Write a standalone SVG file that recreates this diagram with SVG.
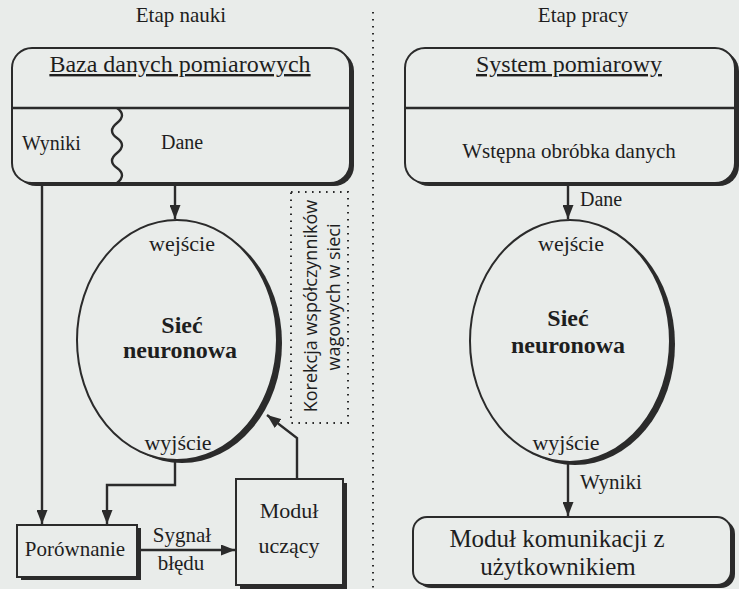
<svg xmlns="http://www.w3.org/2000/svg" width="739" height="589" viewBox="0 0 739 589">
  <defs>
    <marker id="arr" markerUnits="userSpaceOnUse" markerWidth="14" markerHeight="11" refX="14" refY="5.5" viewBox="0 0 14 11" orient="auto">
      <path d="M0,0 L14,5.5 L0,11 z" fill="#2b2b2b"/>
    </marker>
  </defs>
  <style>
    .bg { fill: #e9ecea; }
    .box { fill: #e9ecea; stroke: #2b2b2b; stroke-width: 2; }
    .sh { fill: #2b2b2b; }
    .ln { fill: none; stroke: #2b2b2b; stroke-width: 2.4; }
    .t { font-family: "Liberation Serif", "Times New Roman", serif; fill: #1e1e1e; }
    .s { font-family: "Open Sans", "DejaVu Sans", sans-serif; fill: #1e1e1e; }
    .dot { fill: none; stroke: #2b2b2b; stroke-width: 2; stroke-dasharray: 1.6 5.4; }
  </style>
  <rect class="bg" x="0" y="0" width="739" height="589"/>

  <text class="t" x="181" y="22" font-size="21" text-anchor="middle">Etap nauki</text>
  <text class="t" x="583" y="22" font-size="21" text-anchor="middle">Etap pracy</text>

  <line class="dot" x1="373" y1="12" x2="373" y2="589"/>

  <g id="connectors">
    <line class="ln" x1="42" y1="183" x2="42" y2="524" marker-end="url(#arr)"/>
    <polyline class="ln" points="175,460 175,485 107,485 107,524" marker-end="url(#arr)"/>
    <line class="ln" x1="175" y1="184" x2="175" y2="219" marker-end="url(#arr)"/>
    <line class="ln" x1="139" y1="550" x2="235" y2="550" marker-end="url(#arr)"/>
    <polyline class="ln" points="297,479 297,438 267,415" marker-end="url(#arr)"/>
    <line class="ln" x1="568" y1="184" x2="568" y2="219" marker-end="url(#arr)"/>
    <line class="ln" x1="568" y1="463" x2="568" y2="516" marker-end="url(#arr)"/>
  </g>

  <g id="baza">
    <rect class="sh" x="16" y="51" width="338" height="135" rx="20"/>
    <rect class="box" x="12" y="48" width="338" height="135" rx="20"/>
    <line class="ln" x1="12" y1="108" x2="350" y2="108" stroke-width="1.6"/>
    <text class="t" x="180" y="72" font-size="24" text-anchor="middle" text-decoration="underline">Baza danych pomiarowych</text>
    <text class="t" x="22" y="150" font-size="20">Wyniki</text>
    <path class="ln" d="M117,108 q 10,7 0,15 t 0,15 t 0,15 t 0,15 t 0,15" stroke-width="2"/>
    <text class="t" x="161" y="149" font-size="20">Dane</text>
  </g>

  <g id="system">
    <rect class="sh" x="409" y="51" width="330" height="135" rx="20"/>
    <rect class="box" x="405" y="48" width="330" height="135" rx="20"/>
    <line class="ln" x1="405" y1="108" x2="735" y2="108" stroke-width="1.6"/>
    <text class="t" x="569" y="72" font-size="24" text-anchor="middle" text-decoration="underline">System pomiarowy</text>
    <text class="t" x="569" y="158" font-size="21" text-anchor="middle">Wstępna obróbka danych</text>
  </g>

  <text class="t" x="580" y="206" font-size="20">Dane</text>

  <g id="siec-nauka">
    <ellipse class="sh" cx="182" cy="343" rx="100" ry="120"/>
    <ellipse class="box" cx="177" cy="340" rx="100" ry="120" stroke-width="2.4"/>
    <text class="t" x="182" y="251" font-size="22" text-anchor="middle">wejście</text>
    <text class="t" x="182" y="333" font-size="24" font-weight="bold" text-anchor="middle">Sieć</text>
    <text class="t" x="180" y="358" font-size="24" font-weight="bold" text-anchor="middle">neuronowa</text>
    <text class="t" x="178" y="450" font-size="22" text-anchor="middle">wyjście</text>
  </g>

  <g id="korekcja">
    <rect class="dot" x="291" y="192" width="57" height="231"/>
    <text class="s" transform="translate(317,306) rotate(-90)" font-size="18" text-anchor="middle">Korekcja współczynników</text>
    <text class="s" transform="translate(340,297) rotate(-90)" font-size="18" text-anchor="middle">wagowych w sieci</text>
  </g>

  <g id="siec-praca">
    <ellipse class="sh" cx="575" cy="344" rx="100" ry="121"/>
    <ellipse class="box" cx="570" cy="341" rx="100" ry="121" stroke-width="2.4"/>
    <text class="t" x="571" y="251" font-size="22" text-anchor="middle">wejście</text>
    <text class="t" x="568" y="326" font-size="24" font-weight="bold" text-anchor="middle">Sieć</text>
    <text class="t" x="568" y="353" font-size="24" font-weight="bold" text-anchor="middle">neuronowa</text>
    <text class="t" x="566" y="450" font-size="22" text-anchor="middle">wyjście</text>
  </g>

  <text class="t" x="580" y="489" font-size="21">Wyniki</text>

  <g id="porownanie">
    <rect class="sh" x="21" y="528" width="120" height="52"/>
    <rect class="box" x="17" y="525" width="120" height="52"/>
    <text class="t" x="75" y="556" font-size="21" text-anchor="middle">Porównanie</text>
  </g>

  <text class="t" x="182" y="542" font-size="21" text-anchor="middle">Sygnał</text>
  <text class="t" x="181" y="570" font-size="21" text-anchor="middle">błędu</text>

  <g id="modul-uczacy">
    <rect class="sh" x="240" y="483" width="107" height="106"/>
    <rect class="box" x="236" y="479" width="107" height="106"/>
    <text class="t" x="289" y="518" font-size="22" text-anchor="middle">Moduł</text>
    <text class="t" x="289" y="553" font-size="22" text-anchor="middle">uczący</text>
  </g>

  <g id="modul-komunikacji">
    <rect class="sh" x="417" y="520" width="318" height="68" rx="14"/>
    <rect class="box" x="413" y="517" width="318" height="68" rx="14"/>
    <text class="t" x="557" y="547" font-size="25" text-anchor="middle">Moduł komunikacji z</text>
    <text class="t" x="558" y="575" font-size="25" text-anchor="middle">użytkownikiem</text>
  </g>
</svg>
